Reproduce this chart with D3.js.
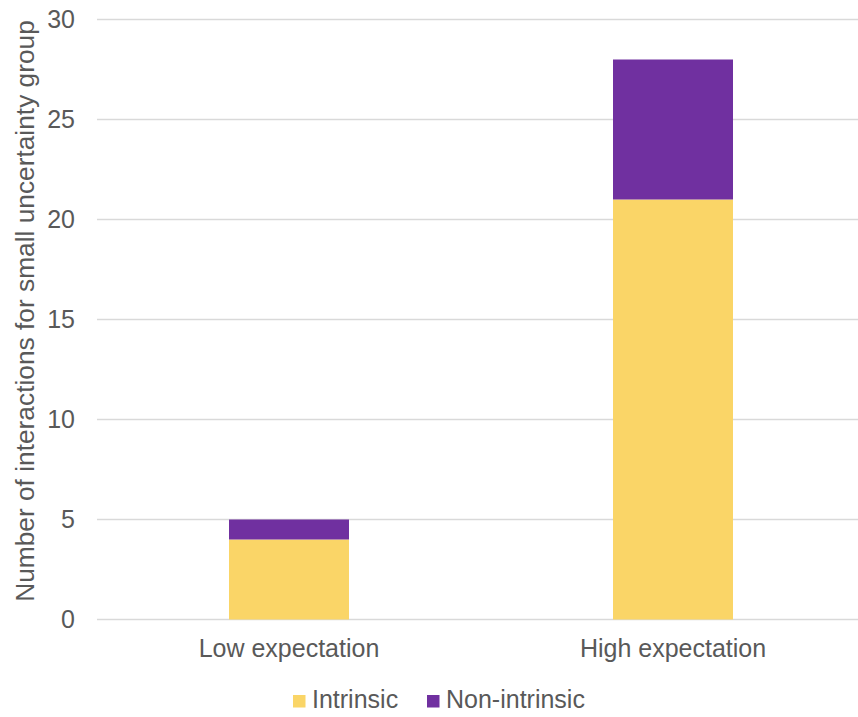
<!DOCTYPE html>
<html>
<head>
<meta charset="utf-8">
<script src="https://cdn.jsdelivr.net/npm/d3@7"></script>
<style>
  html, body { margin: 0; padding: 0; background: #fff; }
  svg { display: block; font-family: "Liberation Sans", Arial, Helvetica, sans-serif; }
</style>
</head>
<body>
<svg id="chart" width="858" height="717"></svg>
<script>
// Interaction counts per expectation group, split by motivation type
const categories = ["Low expectation", "High expectation"];
const seriesNames = ["Intrinsic", "Non-intrinsic"];
const intrinsicValues = [4, 21];
const nonIntrinsicValues = [1, 7];
const yTicks = [0, 5, 10, 15, 20, 25, 30];
const yTitle = "Number of interactions for small uncertainty group";

const colors = { "Intrinsic": "#FAD567", "Non-intrinsic": "#7030A0" };
const textColor = "#595959";
const fontSize = 25;

const svg = d3.select("#chart");
const plot = { left: 97, right: 858, top: 19.5, bottom: 619.5 };

const rows = categories.map((c, i) => ({
  category: c,
  "Intrinsic": intrinsicValues[i],
  "Non-intrinsic": nonIntrinsicValues[i]
}));
const stacked = d3.stack().keys(seriesNames)(rows);

const x = d3.scaleBand()
  .domain(categories)
  .range([plot.left, 865])
  .paddingInner(0.6875)
  .paddingOuter(0.34375);

const y = d3.scaleLinear()
  .domain([0, 30])
  .range([plot.bottom, plot.top]);

// Horizontal gridlines
svg.append("g")
  .selectAll("line")
  .data(yTicks)
  .join("line")
  .attr("x1", plot.left)
  .attr("x2", plot.right)
  .attr("y1", d => y(d))
  .attr("y2", d => y(d))
  .attr("stroke", "#d9d9d9")
  .attr("stroke-width", 1.3);

// Y tick labels
svg.append("g")
  .selectAll("text")
  .data(yTicks)
  .join("text")
  .attr("x", 75)
  .attr("y", d => y(d))
  .attr("dy", "0.35em")
  .attr("text-anchor", "end")
  .attr("fill", textColor)
  .attr("font-size", fontSize)
  .text(d => d);

// Stacked bars
svg.append("g")
  .selectAll("g")
  .data(stacked)
  .join("g")
  .attr("fill", d => colors[d.key])
  .selectAll("rect")
  .data(d => d)
  .join("rect")
  .attr("x", d => x(d.data.category))
  .attr("width", x.bandwidth())
  .attr("y", d => y(d[1]))
  .attr("height", d => y(d[0]) - y(d[1]));

// Category labels
svg.append("g")
  .selectAll("text")
  .data(categories)
  .join("text")
  .attr("x", d => x(d) + x.bandwidth() / 2)
  .attr("y", 657)
  .attr("text-anchor", "middle")
  .attr("fill", textColor)
  .attr("font-size", fontSize)
  .text(d => d);

// Y axis title
svg.append("text")
  .attr("transform", "translate(34,311) rotate(-90)")
  .attr("text-anchor", "middle")
  .attr("fill", textColor)
  .attr("font-size", 26.3)
  .text(yTitle);

// Legend
const legendItems = [
  { name: seriesNames[0], x: 293 },
  { name: seriesNames[1], x: 427 }
];
const legend = svg.append("g");
legend.selectAll("rect")
  .data(legendItems)
  .join("rect")
  .attr("x", d => d.x)
  .attr("y", 695)
  .attr("width", 12.5)
  .attr("height", 12.5)
  .attr("fill", d => colors[d.name]);
legend.selectAll("text")
  .data(legendItems)
  .join("text")
  .attr("x", d => d.x + 19)
  .attr("y", 708)
  .attr("fill", textColor)
  .attr("font-size", fontSize)
  .text(d => d.name);
</script>
</body>
</html>
